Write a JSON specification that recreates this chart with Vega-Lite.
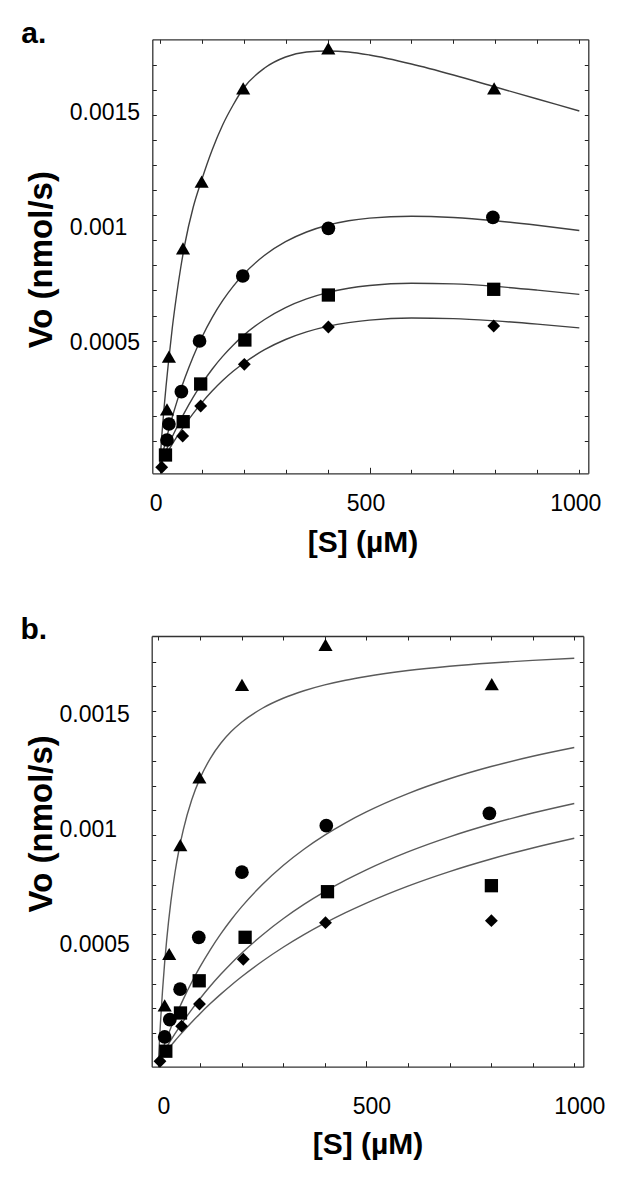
{
"$schema":"https://vega.github.io/schema/vega-lite/v6.json",
"width":623,"height":1177,"autosize":"none","padding":0,"background":"white",
"config":{"view":{"stroke":null},"font":"Liberation Sans","axis":{"grid":false,"labelFont":"Liberation Sans","titleFont":"Liberation Sans","labelColor":"black","titleColor":"black","tickColor":"#222222","domainColor":"#333333","domainWidth":1.3,"tickWidth":1,"labelFlush":false,"labelOverlap":false,"labelBound":false,"titleFontWeight":"bold"}},
"datasets":{
"curves":[
{"panel":"a","S":0,"triangle":-0.0000404,"circle":-0.0000404,"square":-0.0000404,"diamond":-0.0000404},
{"panel":"a","S":5,"triangle":0.0000900,"circle":-0.0000014,"square":-0.0000180,"diamond":-0.0000238},
{"panel":"a","S":10,"triangle":0.0002030,"circle":0.0000361,"square":0.0000039,"diamond":-0.0000075},
{"panel":"a","S":15,"triangle":0.0003030,"circle":0.0000722,"square":0.0000252,"diamond":0.0000085},
{"panel":"a","S":20,"triangle":0.0003943,"circle":0.0001070,"square":0.0000461,"diamond":0.0000241},
{"panel":"a","S":30,"triangle":0.0005596,"circle":0.0001726,"square":0.0000865,"diamond":0.0000543},
{"panel":"a","S":40,"triangle":0.0006987,"circle":0.0002330,"square":0.0001243,"diamond":0.0000835},
{"panel":"a","S":50,"triangle":0.0008204,"circle":0.0002896,"square":0.0001609,"diamond":0.0001113},
{"panel":"a","S":60,"triangle":0.0009248,"circle":0.0003417,"square":0.0001952,"diamond":0.0001383},
{"panel":"a","S":80,"triangle":0.0010857,"circle":0.0004361,"square":0.0002591,"diamond":0.0001883},
{"panel":"a","S":100,"triangle":0.0012030,"circle":0.0005174,"square":0.0003165,"diamond":0.0002339},
{"panel":"a","S":125,"triangle":0.0013335,"circle":0.0006048,"square":0.0003804,"diamond":0.0002852},
{"panel":"a","S":150,"triangle":0.0014422,"circle":0.0006783,"square":0.0004361,"diamond":0.0003309},
{"panel":"a","S":175,"triangle":0.0015291,"circle":0.0007404,"square":0.0004848,"diamond":0.0003713},
{"panel":"a","S":200,"triangle":0.0016030,"circle":0.0007930,"square":0.0005274,"diamond":0.0004065},
{"panel":"a","S":250,"triangle":0.0016900,"circle":0.0008757,"square":0.0005965,"diamond":0.0004652},
{"panel":"a","S":300,"triangle":0.0017378,"circle":0.0009348,"square":0.0006483,"diamond":0.0005096},
{"panel":"a","S":350,"triangle":0.0017596,"circle":0.0009770,"square":0.0006861,"diamond":0.0005426},
{"panel":"a","S":400,"triangle":0.0017639,"circle":0.0010061,"square":0.0007135,"diamond":0.0005665},
{"panel":"a","S":450,"triangle":0.0017596,"circle":0.0010257,"square":0.0007322,"diamond":0.0005830},
{"panel":"a","S":500,"triangle":0.0017465,"circle":0.0010374,"square":0.0007443,"diamond":0.0005939},
{"panel":"a","S":600,"triangle":0.0017074,"circle":0.0010457,"square":0.0007543,"diamond":0.0006030},
{"panel":"a","S":700,"triangle":0.0016596,"circle":0.0010400,"square":0.0007513,"diamond":0.0006004},
{"panel":"a","S":800,"triangle":0.0016074,"circle":0.0010257,"square":0.0007404,"diamond":0.0005904},
{"panel":"a","S":900,"triangle":0.0015552,"circle":0.0010061,"square":0.0007243,"diamond":0.0005765},
{"panel":"a","S":1000,"triangle":0.0015030,"circle":0.0009835,"square":0.0007057,"diamond":0.0005600},
{"panel":"b","S":0,"triangle":-0.0000100,"circle":-0.0000100,"square":-0.0000100,"diamond":-0.0000100},
{"panel":"b","S":5,"triangle":0.0001587,"circle":0.0000160,"square":0.0000060,"diamond":0.0000018},
{"panel":"b","S":10,"triangle":0.0002991,"circle":0.0000414,"square":0.0000217,"diamond":0.0000133},
{"panel":"b","S":15,"triangle":0.0004177,"circle":0.0000660,"square":0.0000372,"diamond":0.0000248},
{"panel":"b","S":20,"triangle":0.0005192,"circle":0.0000899,"square":0.0000523,"diamond":0.0000360},
{"panel":"b","S":30,"triangle":0.0006839,"circle":0.0001360,"square":0.0000818,"diamond":0.0000581},
{"panel":"b","S":40,"triangle":0.0008119,"circle":0.0001796,"square":0.0001103,"diamond":0.0000796},
{"panel":"b","S":50,"triangle":0.0009141,"circle":0.0002210,"square":0.0001377,"diamond":0.0001004},
{"panel":"b","S":60,"triangle":0.0009976,"circle":0.0002604,"square":0.0001643,"diamond":0.0001208},
{"panel":"b","S":80,"triangle":0.0011260,"circle":0.0003337,"square":0.0002148,"diamond":0.0001599},
{"panel":"b","S":100,"triangle":0.0012200,"circle":0.0004005,"square":0.0002620,"diamond":0.0001970},
{"panel":"b","S":125,"triangle":0.0013073,"circle":0.0004760,"square":0.0003171,"diamond":0.0002408},
{"panel":"b","S":150,"triangle":0.0013726,"circle":0.0005439,"square":0.0003681,"diamond":0.0002820},
{"panel":"b","S":175,"triangle":0.0014234,"circle":0.0006053,"square":0.0004155,"diamond":0.0003209},
{"panel":"b","S":200,"triangle":0.0014641,"circle":0.0006612,"square":0.0004596,"diamond":0.0003576},
{"panel":"b","S":250,"triangle":0.0015250,"circle":0.0007588,"square":0.0005394,"diamond":0.0004251},
{"panel":"b","S":300,"triangle":0.0015685,"circle":0.0008414,"square":0.0006096,"diamond":0.0004859},
{"panel":"b","S":350,"triangle":0.0016010,"circle":0.0009121,"square":0.0006719,"diamond":0.0005408},
{"panel":"b","S":400,"triangle":0.0016264,"circle":0.0009734,"square":0.0007274,"diamond":0.0005907},
{"panel":"b","S":450,"triangle":0.0016467,"circle":0.0010270,"square":0.0007773,"diamond":0.0006362},
{"panel":"b","S":500,"triangle":0.0016632,"circle":0.0010743,"square":0.0008224,"diamond":0.0006779},
{"panel":"b","S":600,"triangle":0.0016888,"circle":0.0011539,"square":0.0009005,"diamond":0.0007517},
{"panel":"b","S":700,"triangle":0.0017075,"circle":0.0012183,"square":0.0009660,"diamond":0.0008149},
{"panel":"b","S":800,"triangle":0.0017218,"circle":0.0012715,"square":0.0010216,"diamond":0.0008696},
{"panel":"b","S":900,"triangle":0.0017331,"circle":0.0013162,"square":0.0010694,"diamond":0.0009174},
{"panel":"b","S":1000,"triangle":0.0017422,"circle":0.0013542,"square":0.0011110,"diamond":0.0009596}
],
"points":[
{"panel":"a","series":"triangle","S":17.4,"V":0.000206},
{"panel":"a","series":"triangle","S":22,"V":0.000435},
{"panel":"a","series":"triangle","S":55.6,"V":0.000906},
{"panel":"a","series":"triangle","S":100,"V":0.0011957},
{"panel":"a","series":"triangle","S":199,"V":0.0016017},
{"panel":"a","series":"triangle","S":401.8,"V":0.0017757},
{"panel":"a","series":"triangle","S":797,"V":0.0016017},
{"panel":"a","series":"circle","S":17.4,"V":0.0000726},
{"panel":"a","series":"circle","S":22,"V":0.0001422},
{"panel":"a","series":"circle","S":51.7,"V":0.0002826},
{"panel":"a","series":"circle","S":95,"V":0.000503},
{"panel":"a","series":"circle","S":198,"V":0.0007857},
{"panel":"a","series":"circle","S":402,"V":0.000993},
{"panel":"a","series":"circle","S":794,"V":0.0010409},
{"panel":"a","series":"square","S":13.8,"V":0.0000074},
{"panel":"a","series":"square","S":56,"V":0.0001522},
{"panel":"a","series":"square","S":97.7,"V":0.0003161},
{"panel":"a","series":"square","S":203,"V":0.0005074},
{"panel":"a","series":"square","S":402,"V":0.000703},
{"panel":"a","series":"square","S":796,"V":0.0007278},
{"panel":"a","series":"diamond","S":4.8,"V":-0.0000461},
{"panel":"a","series":"diamond","S":54.8,"V":0.00009},
{"panel":"a","series":"diamond","S":97.7,"V":0.0002204},
{"panel":"a","series":"diamond","S":201.7,"V":0.0004017},
{"panel":"a","series":"diamond","S":402,"V":0.0005639},
{"panel":"a","series":"diamond","S":796,"V":0.0005683},
{"panel":"b","series":"triangle","S":15.1,"V":0.0002326},
{"panel":"b","series":"triangle","S":26,"V":0.0004565},
{"panel":"b","series":"triangle","S":52.7,"V":0.0009304},
{"panel":"b","series":"triangle","S":98.6,"V":0.0012248},
{"panel":"b","series":"triangle","S":201,"V":0.0016261},
{"panel":"b","series":"triangle","S":401.8,"V":0.0018},
{"panel":"b","series":"triangle","S":801.6,"V":0.0016304},
{"panel":"b","series":"circle","S":15.1,"V":0.0000957},
{"panel":"b","series":"circle","S":27.4,"V":0.0001709},
{"panel":"b","series":"circle","S":52.2,"V":0.0003035},
{"panel":"b","series":"circle","S":97.1,"V":0.0005291},
{"panel":"b","series":"circle","S":200.8,"V":0.0008122},
{"panel":"b","series":"circle","S":403.7,"V":0.0010143},
{"panel":"b","series":"circle","S":795.9,"V":0.0010683},
{"panel":"b","series":"square","S":17.8,"V":0.0000339},
{"panel":"b","series":"square","S":53.1,"V":0.0002},
{"panel":"b","series":"square","S":98.1,"V":0.00034},
{"panel":"b","series":"square","S":208.5,"V":0.0005291},
{"panel":"b","series":"square","S":406.6,"V":0.0007274},
{"panel":"b","series":"square","S":800.7,"V":0.0007535},
{"panel":"b","series":"diamond","S":3.8,"V":-0.0000096},
{"panel":"b","series":"diamond","S":55.8,"V":0.0001426},
{"panel":"b","series":"diamond","S":98.8,"V":0.0002391},
{"panel":"b","series":"diamond","S":204.1,"V":0.0004335},
{"panel":"b","series":"diamond","S":401.8,"V":0.0005926},
{"panel":"b","series":"diamond","S":800.7,"V":0.0006013}
]
},
"layer":[
{"data":{"name":"curves"},
 "transform":[{"filter":"datum.panel == 'a'"},{"fold":["triangle","circle","square","diamond"],"as":["series","V"]}],
 "mark":{"type":"line","color":"#404040","strokeWidth":1.4,"interpolate":"monotone"},
 "encoding":{
  "x":{"field":"S","type":"quantitative","scale":{"domain":[-17.6,1021.4],"range":[152.3,588.3],"nice":false,"zero":false},
   "axis":{"orient":"bottom","offset":-703.7,"values":[0,500,1000],"format":"d","ticks":false,"domain":false,"labelFontSize":23,"labelBaseline":"alphabetic","labelPadding":36.7,"labelOffset":-4,"title":"[S] (µM)","titleFontSize":30,"titleX":362.5,"titleY":78.4,"titleAlign":"center","titleBaseline":"alphabetic","titleAngle":0}},
  "y":{"field":"V","type":"quantitative","scale":{"domain":[-0.0000722,0.0018148],"range":[473.3,39.3],"nice":false,"zero":false},
   "axis":{"orient":"left","offset":-152.3,"values":[0.0005,0.001,0.0015],"format":"~g","ticks":false,"domain":false,"labelFontSize":23,"labelAlign":"left","labelPadding":83,"labelOffset":1,"title":"Vo (nmol/s)","titleFontSize":33,"titleAngle":-90,"titleX":-100.5,"titleY":259.2,"titleAlign":"center","titleBaseline":"alphabetic"}},
  "detail":{"field":"series","type":"nominal"}}},
{"data":{"name":"points"},
 "transform":[{"filter":"datum.panel == 'a'"}],
 "mark":{"type":"point","filled":true,"color":"black","opacity":1,"strokeWidth":0},
 "encoding":{
  "x":{"field":"S","type":"quantitative","scale":{"domain":[-17.6,1021.4],"range":[152.3,588.3],"nice":false,"zero":false},
   "axis":{"orient":"bottom","offset":-1137.7,"values":[0,100,200,300,400,500,600,700,800,900,1000],"labels":false,"ticks":true,"tickSize":4,"domain":true,"title":"a.","titleFontSize":30,"titleX":20.7,"titleY":3.4,"titleAlign":"left","titleBaseline":"alphabetic","titleAngle":0}},
  "y":{"field":"V","type":"quantitative","scale":{"domain":[-0.0000722,0.0018148],"range":[473.3,39.3],"nice":false,"zero":false},
   "axis":{"orient":"left","offset":-588.3,"values":[0.0000694,0.0001783,0.0002872,0.0003961,0.000505,0.0006139,0.0007228,0.0008317,0.0009406,0.0010496,0.0011585,0.0012674,0.0013763,0.0014852,0.0015941,0.001703],"labels":false,"ticks":true,"tickSize":4,"domain":true,"title":null}},
  "shape":{"field":"series","type":"nominal","scale":{"domain":["triangle","circle","square","diamond"],"range":["triangle-up","circle","square","diamond"]},"legend":null},
  "size":{"field":"series","type":"nominal","scale":{"domain":["triangle","circle","square","diamond"],"range":[200,165,135,200]},"legend":null}}},
{"data":{"name":"points"},
 "transform":[{"filter":"datum.panel == 'a'"}],
 "mark":{"type":"point","opacity":0},
 "encoding":{
  "x":{"field":"S","type":"quantitative","scale":{"domain":[-17.6,1021.4],"range":[152.3,588.3],"nice":false,"zero":false},
   "axis":{"orient":"top","offset":-473.3,"values":[0,100,200,300,400,500,600,700,800,900,1000],"labels":false,"ticks":true,"tickSize":{"condition":{"test":"datum.value == 500","value":6},"value":4},"domain":true,"title":null}},
  "y":{"field":"V","type":"quantitative","scale":{"domain":[-0.0000722,0.0018148],"range":[473.3,39.3],"nice":false,"zero":false},
   "axis":{"orient":"right","offset":-470.7,"values":[0.0000694,0.0001783,0.0002872,0.0003961,0.000505,0.0006139,0.0007228,0.0008317,0.0009406,0.0010496,0.0011585,0.0012674,0.0013763,0.0014852,0.0015941,0.001703],"labels":false,"ticks":true,"tickSize":4,"domain":true,"title":null}}}},
{"data":{"name":"curves"},
 "transform":[{"filter":"datum.panel == 'b'"},{"fold":["triangle","circle","square","diamond"],"as":["series","V"]}],
 "mark":{"type":"line","color":"#5a5a5a","strokeWidth":1.4,"interpolate":"monotone"},
 "encoding":{
  "x":{"field":"S","type":"quantitative","scale":{"domain":[-16.1,1021.7],"range":[151.7,583.3],"nice":false,"zero":false},
   "axis":{"orient":"bottom","offset":-110.3,"values":[0,500,1000],"format":"d","ticks":false,"domain":false,"labelFontSize":23,"labelBaseline":"alphabetic","labelPadding":46.6,"labelOffset":5,"title":"[S] (µM)","titleFontSize":30,"titleX":367.5,"titleY":86.6,"titleAlign":"center","titleBaseline":"alphabetic","titleAngle":0}},
  "y":{"field":"V","type":"quantitative","scale":{"domain":[-0.0000335,0.0018391],"range":[1066.7,636],"nice":false,"zero":false},
   "axis":{"orient":"left","offset":-151.7,"values":[0.0005,0.001,0.0015],"format":"~g","ticks":false,"domain":false,"labelFontSize":23,"labelAlign":"left","labelPadding":92.7,"labelOffset":1,"title":"Vo (nmol/s)","titleFontSize":33,"titleAngle":-90,"titleX":-100.6,"titleY":823.3,"titleAlign":"center","titleBaseline":"alphabetic"}},
  "detail":{"field":"series","type":"nominal"}}},
{"data":{"name":"points"},
 "transform":[{"filter":"datum.panel == 'b'"}],
 "mark":{"type":"point","filled":true,"color":"black","opacity":1,"strokeWidth":0},
 "encoding":{
  "x":{"field":"S","type":"quantitative","scale":{"domain":[-16.1,1021.7],"range":[151.7,583.3],"nice":false,"zero":false},
   "axis":{"orient":"bottom","offset":-541,"values":[0,100,200,300,400,500,600,700,800,900,1000],"labels":false,"ticks":true,"tickSize":4,"domain":true,"title":"b.","titleFontSize":30,"titleX":20,"titleY":2.3,"titleAlign":"left","titleBaseline":"alphabetic","titleAngle":0}},
  "y":{"field":"V","type":"quantitative","scale":{"domain":[-0.0000335,0.0018391],"range":[1066.7,636],"nice":false,"zero":false},
   "axis":{"orient":"left","offset":-583.3,"values":[0.0001119,0.0002196,0.0003273,0.000435,0.0005427,0.0006504,0.0007581,0.0008658,0.0009735,0.0010812,0.0011889,0.0012966,0.0014043,0.001512,0.0016197,0.0017274],"labels":false,"ticks":true,"tickSize":4,"domain":true,"title":null}},
  "shape":{"field":"series","type":"nominal","scale":{"domain":["triangle","circle","square","diamond"],"range":["triangle-up","circle","square","diamond"]},"legend":null},
  "size":{"field":"series","type":"nominal","scale":{"domain":["triangle","circle","square","diamond"],"range":[200,165,135,200]},"legend":null}}},
{"data":{"name":"points"},
 "transform":[{"filter":"datum.panel == 'b'"}],
 "mark":{"type":"point","opacity":0},
 "encoding":{
  "x":{"field":"S","type":"quantitative","scale":{"domain":[-16.1,1021.7],"range":[151.7,583.3],"nice":false,"zero":false},
   "axis":{"orient":"top","offset":-1066.7,"values":[0,100,200,300,400,500,600,700,800,900,1000],"labels":false,"ticks":true,"tickSize":{"condition":{"test":"datum.value == 500","value":6},"value":4},"domain":true,"title":null}},
  "y":{"field":"V","type":"quantitative","scale":{"domain":[-0.0000335,0.0018391],"range":[1066.7,636],"nice":false,"zero":false},
   "axis":{"orient":"right","offset":-471.3,"values":[0.0001119,0.0002196,0.0003273,0.000435,0.0005427,0.0006504,0.0007581,0.0008658,0.0009735,0.0010812,0.0011889,0.0012966,0.0014043,0.001512,0.0016197,0.0017274],"labels":false,"ticks":true,"tickSize":4,"domain":true,"title":null}}}}
],
"resolve":{"scale":{"x":"independent","y":"independent"},"axis":{"x":"independent","y":"independent"}}
}
